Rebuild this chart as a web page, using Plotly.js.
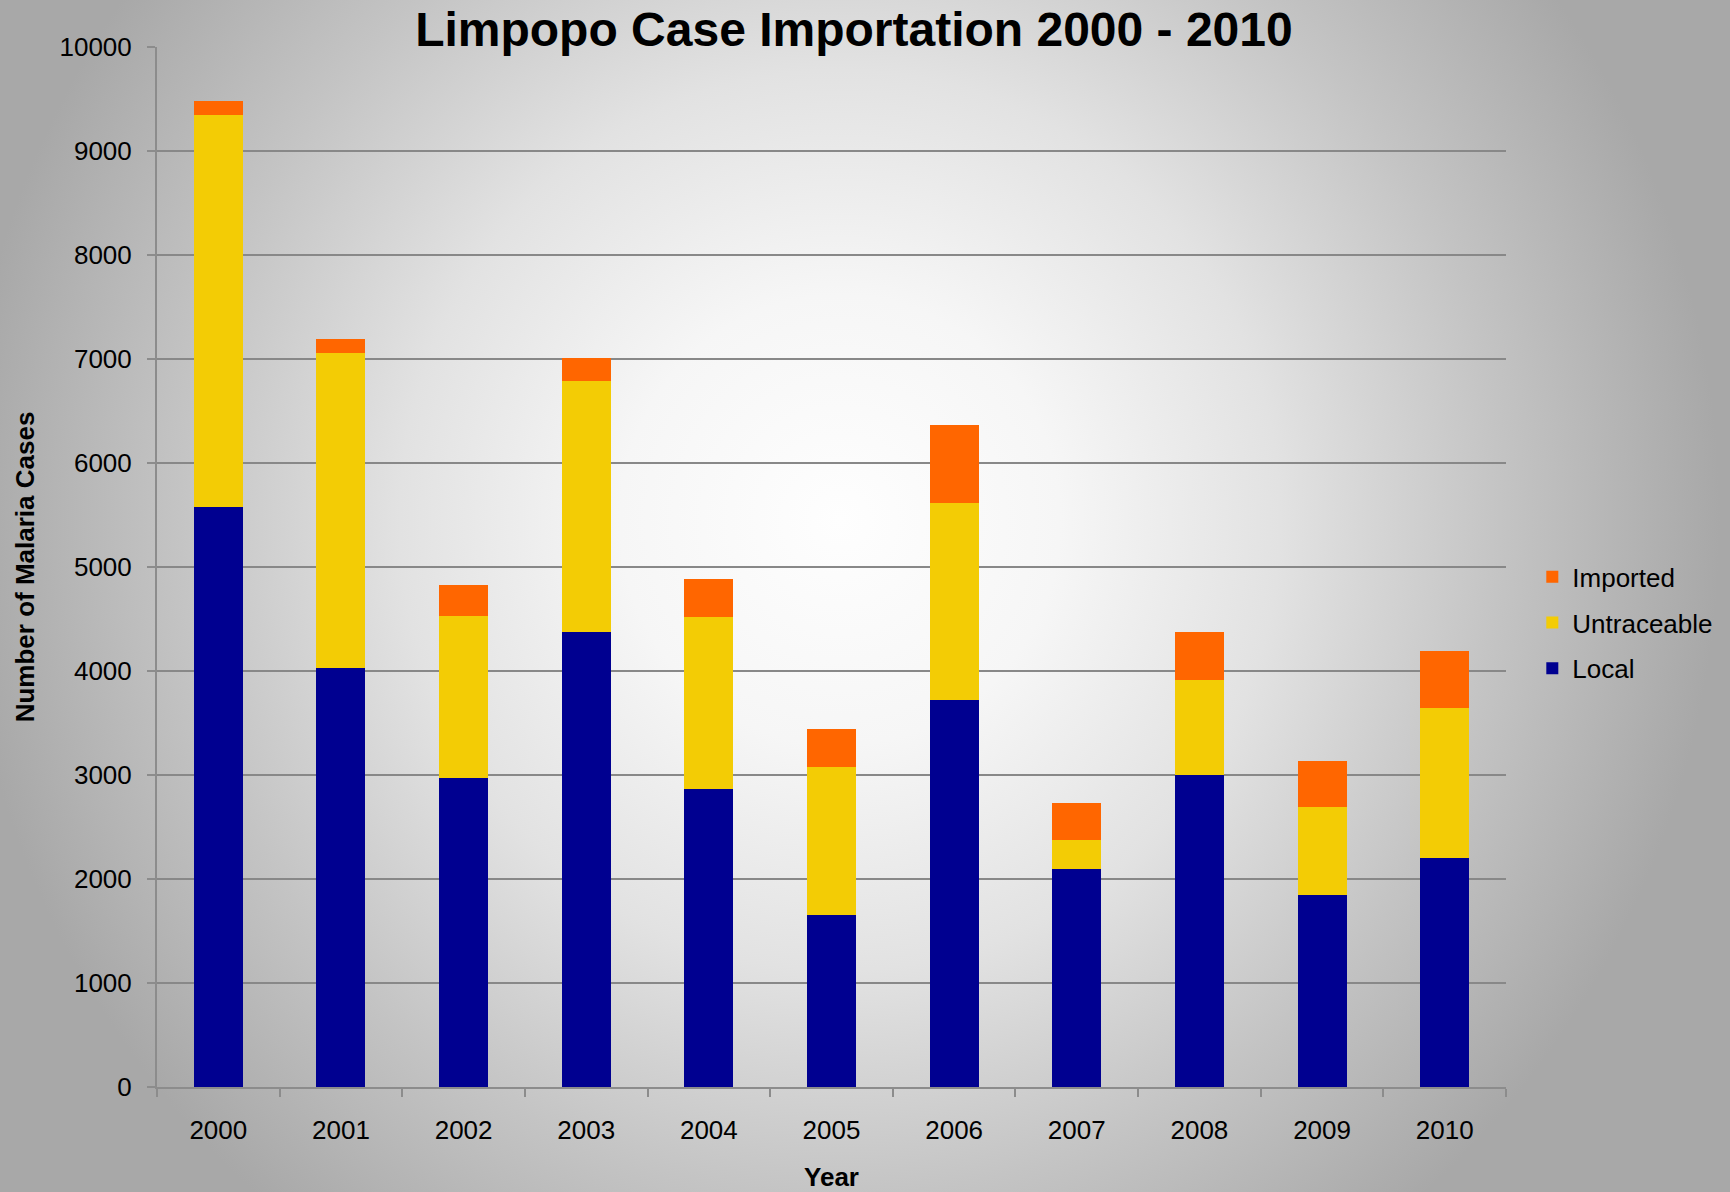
<!DOCTYPE html>
<html>
<head>
<meta charset="utf-8">
<script src="https://cdn.plot.ly/plotly-3.0.1.min.js"></script>
<style>
  html, body { margin: 0; padding: 0; }
  #chart {
    width: 1730px; height: 1192px;
    background: radial-gradient(880px 900px at 840px 520px, #fefefe 0%, #f6f6f6 25%, #e2e2e2 50%, #c4c4c4 75%, #a8a8a8 100%);
  }
</style>
</head>
<body>
<div id="chart"></div>
<script>
const years = ["2000","2001","2002","2003","2004","2005","2006","2007","2008","2009","2010"];
const local = [5573, 4032, 2971, 4376, 2865, 1657, 3726, 2099, 2996, 1850, 2198];
const untraceable = [3775, 3026, 1562, 2412, 1656, 1419, 1893, 279, 922, 845, 1448];
const imported = [137, 133, 295, 218, 368, 371, 743, 349, 461, 439, 551];

const seriesNames = ["Local", "Untraceable", "Imported"];
const seriesColors = ["#000090", "#F3CC05", "#FF6600"];
const seriesValues = [local, untraceable, imported];
const legendRanks = [3, 2, 1];

const traces = seriesNames.map((name, i) => ({
  type: "bar",
  name: name,
  x: years,
  y: seriesValues[i],
  legendgroup: name,
  legendrank: legendRanks[i],
  marker: { color: seriesColors[i], line: { width: 0 } },
  hoverinfo: "x+y+name"
}));

const fontFamily = "'Liberation Sans', Arial, sans-serif";

const layout = {
  width: 1730,
  height: 1192,
  paper_bgcolor: "rgba(0,0,0,0)",
  plot_bgcolor: "rgba(0,0,0,0)",
  barmode: "stack",
  bargap: 0.6,
  margin: { l: 157, r: 224, t: 47, b: 104.5, pad: 0 },
  font: { family: fontFamily, color: "#000000", size: 26 },
  title: {
    text: "<b>Limpopo Case Importation 2000 - 2010</b>",
    font: { family: fontFamily, size: 48, color: "#000000" },
    x: 0.4936, xref: "container", xanchor: "center",
    y: 0.9758, yref: "container", yanchor: "middle"
  },
  xaxis: {
    type: "category",
    tickson: "boundaries",
    ticks: "outside",
    ticklen: 8,
    tickwidth: 2,
    tickcolor: "#8c8c8c",
    showline: true,
    linecolor: "#8c8c8c",
    linewidth: 2,
    showgrid: false,
    tickfont: { family: fontFamily, size: 26, color: "#000000" },
    ticklabelstandoff: 19,
    title: {
      text: "<b>Year</b>",
      font: { family: fontFamily, size: 26, color: "#000000" },
      standoff: 29
    },
    automargin: false
  },
  yaxis: {
    range: [0, 10000],
    dtick: 1000,
    tick0: 0,
    tickformat: "d",
    ticks: "outside",
    ticklen: 8,
    tickwidth: 2,
    tickcolor: "#8c8c8c",
    showline: true,
    linecolor: "#8c8c8c",
    linewidth: 2,
    showgrid: true,
    gridcolor: "#888888",
    gridwidth: 2,
    zeroline: false,
    tickfont: { family: fontFamily, size: 26, color: "#000000" },
    ticklabelstandoff: 10,
    title: {
      text: "<b>Number of Malaria Cases</b>",
      font: { family: fontFamily, size: 26, color: "#000000" },
      standoff: 17
    },
    automargin: false
  },
  legend: {
    x: 1.0195, xanchor: "left",
    y: 0.4463, yanchor: "middle",
    traceorder: "grouped",
    tracegroupgap: 9,
    font: { family: fontFamily, size: 26, color: "#000000" },
    bgcolor: "rgba(0,0,0,0)",
    borderwidth: 0
  },
  showlegend: true
};

Plotly.newPlot("chart", traces, layout, { displayModeBar: false, staticPlot: true });
</script>
</body>
</html>
